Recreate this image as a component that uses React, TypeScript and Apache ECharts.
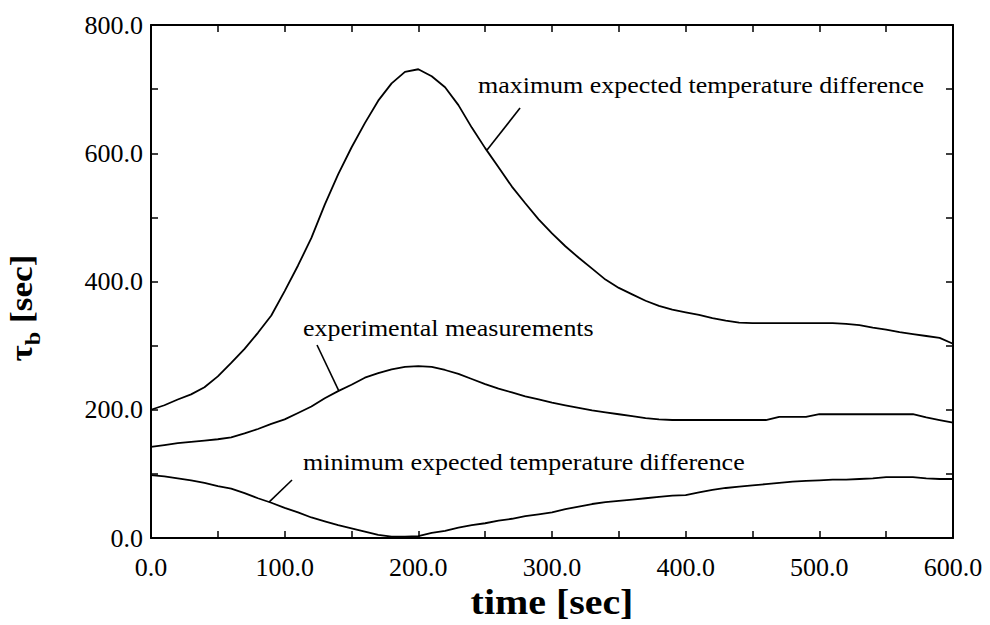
import React, { useEffect, useRef } from "react";
import * as echarts from "echarts";

// time axis samples [sec]
const timeSec = [
  0, 10, 20, 30, 40, 50, 60, 70, 80, 90, 100, 110, 120, 130, 140, 150, 160, 170, 180, 190,
  200, 210, 220, 230, 240, 250, 260, 270, 280, 290, 300, 310, 320, 330, 340, 350, 360, 370,
  380, 390, 400, 410, 420, 430, 440, 450, 460, 470, 480, 490, 500, 510, 520, 530, 540, 550,
  560, 570, 580, 590, 600,
];

// tau_b for the maximum expected temperature difference [sec]
const maxExpected = [
  200, 207, 216, 224, 235, 252, 273, 295, 320, 347, 385, 425, 468, 520, 567, 609, 647, 682, 709, 727,
  731, 720, 703, 675, 640, 608, 578, 548, 522, 497, 475, 455, 437, 420, 403, 390, 380, 370,
  362, 356, 352, 348, 343, 339, 336, 335, 335, 335, 335, 335, 335, 335, 334, 332, 328, 325,
  321, 318, 315, 312, 303,
];

// tau_b from the experimental measurements [sec]
const experimental = [
  142, 145, 148, 150, 152, 154, 157, 163, 170, 178, 185, 195, 205, 218, 229, 239, 250, 257, 263, 267,
  268, 267, 262, 256, 248, 240, 233, 227, 221, 216, 211, 207, 203, 199, 196, 193, 190, 187,
  185, 184, 184, 184, 184, 184, 184, 184, 184, 189, 189, 189, 193, 193, 193, 193, 193, 193,
  193, 193, 188, 184, 180,
];

// tau_b for the minimum expected temperature difference [sec]
const minExpected = [
  98, 96, 93, 90, 86, 81, 77, 70, 62, 55, 47, 40, 32, 26, 20, 15, 10, 5, 2, 2,
  3, 8, 11, 16, 20, 23, 27, 30, 34, 37, 40, 45, 49, 53, 56, 58, 60, 62,
  64, 66, 67, 71, 75, 78, 80, 82, 84, 86, 88, 89, 90, 91, 91, 92, 93, 95,
  95, 95, 93, 92, 92,
];

// curve annotations: label anchor (left, middle) and leader line, in data units
const annotationText = [
  "maximum expected temperature difference",
  "experimental measurements",
  "minimum expected temperature difference",
];
const annotationAnchor = [
  [244.6, 706],
  [113.7, 327],
  [113.7, 118],
];
const leaderFrom = [
  [276.1, 670.5],
  [124.2, 301],
  [105.5, 90.4],
];
const leaderTo = [
  [251.4, 605],
  [140.6, 229],
  [88.3, 56],
];

const FONT = "'Liberation Serif', 'Times New Roman', serif";
const INK = "#000";

const pairs = (ys: number[]) => timeSec.map((t, i) => [t, ys[i]]);

export default function App() {
  const ref = useRef<HTMLDivElement>(null);

  useEffect(() => {
    const host = ref.current;
    if (!host) return;
    const chart = echarts.init(host, null, { renderer: "svg" });

    const axisLine = { show: true, onZero: false, lineStyle: { color: INK, width: 2 } };
    const axisTick = { show: true, inside: true, length: 7, lineStyle: { color: INK, width: 1.5 } };
    const labelStyle = { color: INK, fontFamily: FONT, fontSize: 26 };

    const lineSeries = (name: string, ys: number[]) => ({
      name,
      type: "line",
      data: pairs(ys),
      showSymbol: false,
      symbol: "none",
      lineStyle: { color: INK, width: 1.8 },
      silent: true,
    });

    chart.setOption({
      animation: false,
      backgroundColor: "#fff",
      grid: { left: 151, top: 25, right: 37, bottom: 87, show: false },
      xAxis: [
        {
          type: "value",
          min: 0,
          max: 600,
          interval: 50,
          axisLine,
          axisTick,
          splitLine: { show: false },
          axisLabel: {
            ...labelStyle,
            margin: 16,
            formatter: (v: number) => (v % 100 === 0 ? v.toFixed(1) : ""),
          },
        },
        {
          type: "value",
          position: "top",
          min: 0,
          max: 600,
          interval: 50,
          axisLine,
          axisTick,
          splitLine: { show: false },
          axisLabel: { show: false },
        },
      ],
      yAxis: [
        {
          type: "value",
          min: 0,
          max: 800,
          interval: 100,
          axisLine,
          axisTick,
          splitLine: { show: false },
          axisLabel: {
            ...labelStyle,
            margin: 8,
            formatter: (v: number) => (v % 200 === 0 ? v.toFixed(1) : ""),
          },
        },
        {
          type: "value",
          position: "right",
          min: 0,
          max: 800,
          interval: 100,
          axisLine,
          axisTick,
          splitLine: { show: false },
          axisLabel: { show: false },
        },
      ],
      series: [
        lineSeries("maximum expected temperature difference", maxExpected),
        lineSeries("experimental measurements", experimental),
        lineSeries("minimum expected temperature difference", minExpected),
      ],
    });

    const px = (p: number[]) =>
      chart.convertToPixel({ xAxisIndex: 0, yAxisIndex: 0 }, p) as number[];

    const graphics: any[] = [];
    annotationText.forEach((txt, i) => {
      const a = px(annotationAnchor[i]);
      const f = px(leaderFrom[i]);
      const t = px(leaderTo[i]);
      graphics.push({
        type: "text",
        x: a[0],
        y: a[1],
        scaleX: 1.13,
        silent: true,
        style: {
          text: txt,
          fill: INK,
          font: `23px ${FONT}`,
          textAlign: "left",
          textVerticalAlign: "middle",
        },
      });
      graphics.push({
        type: "line",
        silent: true,
        shape: { x1: f[0], y1: f[1], x2: t[0], y2: t[1] },
        style: { stroke: INK, lineWidth: 1.6 },
      });
    });

    // axis titles
    graphics.push({
      type: "text",
      x: 552,
      y: 602,
      scaleX: 1.14,
      silent: true,
      style: {
        text: "time [sec]",
        fill: INK,
        font: `bold 35px ${FONT}`,
        textAlign: "center",
        textVerticalAlign: "middle",
      },
    });
    graphics.push({
      type: "text",
      x: 21,
      y: 308,
      rotation: Math.PI / 2,
      scaleX: 1.1,
      silent: true,
      style: {
        text: "{a|τ}{b|b}{a| [sec]}",
        fill: INK,
        align: "center",
        verticalAlign: "middle",
        rich: {
          a: { fontFamily: FONT, fontWeight: "bold", fontSize: 32, lineHeight: 44, fill: INK },
          b: {
            fontFamily: FONT,
            fontWeight: "bold",
            fontSize: 22,
            lineHeight: 22,
            verticalAlign: "bottom",
            fill: INK,
          },
        },
      },
    });

    chart.setOption({ graphic: graphics });

    return () => chart.dispose();
  }, []);

  return (
    <div
      ref={ref}
      style={{ position: "fixed", left: 0, top: 0, width: 990, height: 625, background: "#fff" }}
    />
  );
}
